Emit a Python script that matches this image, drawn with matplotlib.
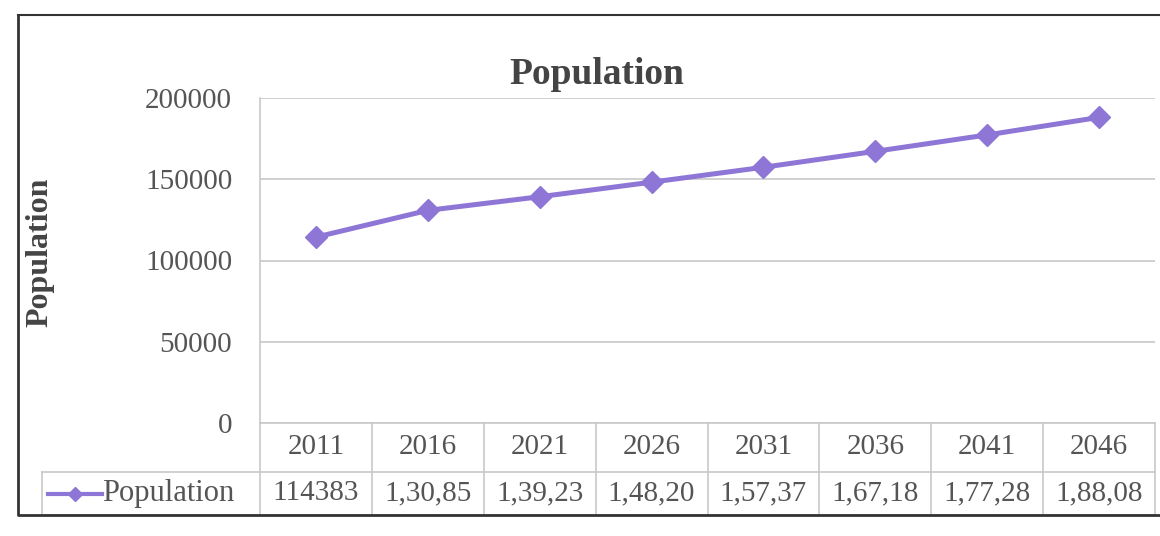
import matplotlib.pyplot as plt
import matplotlib.transforms as mtransforms
from matplotlib.lines import Line2D

years = ["2011", "2016", "2021", "2026", "2031", "2036", "2041", "2046"]
population = [114383, 130850, 139230, 148200, 157370, 167180, 177280, 188080]
table_labels = ["114383", "1,30,85", "1,39,23", "1,48,20",
                "1,57,37", "1,67,18", "1,77,28", "1,88,08"]
y_ticks = [0, 50000, 100000, 150000, 200000]

W, H = 1160, 536
line_color = "#8E76D6"
text_color = "#555555"
grid_color = "#c8c8c8"
serif = ["Liberation Serif", "DejaVu Serif"]


def fx(px):
    return px / W


def fy(py):
    return 1 - py / H


def main():
    fig = plt.figure(figsize=(W / 100, H / 100), dpi=100)
    left, right, top, bottom = 260, 1155, 98, 423
    ax = fig.add_axes([fx(left), fy(bottom), fx(right - left), (bottom - top) / H])

    x = list(range(len(years)))
    ax.plot(x, population, color=line_color, lw=3.6, marker="D",
            markersize=11, zorder=3)
    ax.set_xlim(-0.5, len(years) - 0.5)
    ax.set_ylim(0, 200000)
    ax.set_yticks(y_ticks)
    ax.set_yticklabels([str(v) for v in y_ticks], fontfamily=serif,
                       fontsize=21, color=text_color)
    ax.tick_params(axis="y", length=0, pad=20)
    ax.set_xticks([])
    ax.grid(axis="y", color=grid_color, lw=1.2)
    for s in ["top", "right"]:
        ax.spines[s].set_visible(False)
    ax.spines["left"].set_color(grid_color)
    ax.spines["bottom"].set_color(grid_color)
    ax.spines["left"].set_linewidth(1.2)
    ax.spines["bottom"].set_linewidth(1.2)

    fig.text(fx(597), fy(75), "Population", ha="center", va="center",
             fontfamily=serif, fontsize=27, fontweight="bold", color="#444444")
    fig.text(fx(40), fy(252), "Population", ha="center", va="center",
             rotation=90, fontfamily=serif, fontsize=23, fontweight="bold",
             color="#444444")

    # data table under the plot
    ph = bottom - top
    h1 = (472 - bottom) / ph
    h2 = (515 - bottom) / ph
    trans = mtransforms.blended_transform_factory(ax.transData, ax.transAxes)
    for i in range(len(years) + 1):
        ax.plot([i - 0.5, i - 0.5], [0, -h2], color=grid_color, lw=1.2,
                transform=trans, clip_on=False)
    row_left = (42 - left) / (right - left)
    for yy in [-h1, -h2]:
        ax.plot([row_left, 1], [yy, yy], color=grid_color, lw=1.2,
                transform=ax.transAxes, clip_on=False)
    ax.plot([row_left, row_left], [-h1, -h2], color=grid_color, lw=1.2,
            transform=ax.transAxes, clip_on=False)
    for i, (yr, lab) in enumerate(zip(years, table_labels)):
        ax.text(i, -h1 / 2, yr, transform=trans, ha="center", va="center",
                fontfamily=serif, fontsize=21, color=text_color)
        ax.text(i, -(h1 + h2) / 2, lab, transform=trans, ha="center",
                va="center", fontfamily=serif, fontsize=21, color=text_color)

    # legend key in row header
    key_y = fy((472 + 515) / 2)
    fig.add_artist(Line2D([fx(48), fx(102)], [key_y, key_y], color=line_color,
                          lw=3, transform=fig.transFigure))
    fig.add_artist(Line2D([fx(75)], [key_y], color=line_color, marker="D",
                          markersize=7, transform=fig.transFigure))
    fig.text(fx(102), key_y, "Population", ha="left", va="center",
             fontfamily=serif, fontsize=22, color=text_color)

    # chart border
    border = "#333333"
    fig.add_artist(Line2D([fx(18), fx(18), fx(1160)], [fy(15), fy(515), fy(515)],
                          color=border, lw=2, transform=fig.transFigure))
    fig.add_artist(Line2D([fx(18), fx(1160)], [fy(15), fy(15)],
                          color=border, lw=1.5, transform=fig.transFigure))

    fig.savefig("out.png", dpi=100)


if __name__ == "__main__":
    main()
